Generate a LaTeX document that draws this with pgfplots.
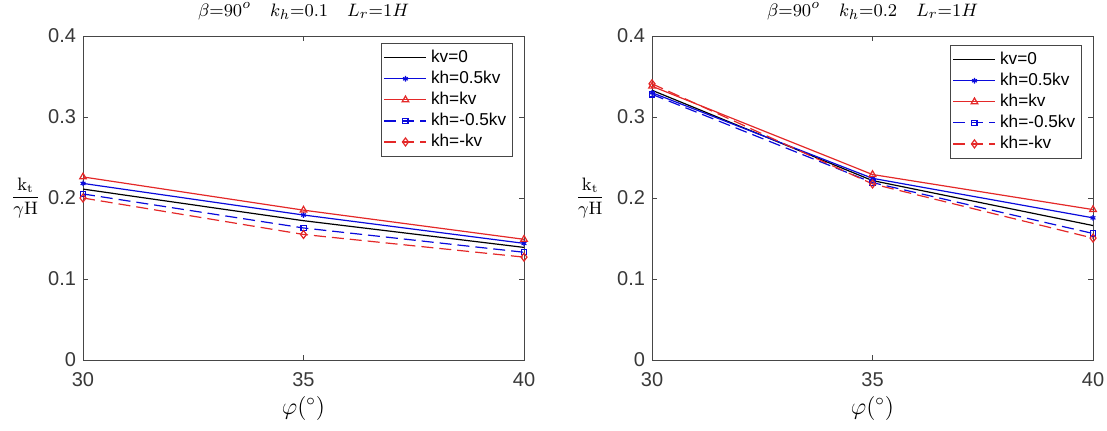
\documentclass[border=0pt]{standalone}
\usepackage[no-math]{fontspec}
\setmainfont{Liberation Sans}
\usepackage{pgfplots}
\usepackage{pgfplotstable}
\pgfplotsset{compat=1.18}
\definecolor{mblue}{RGB}{10,10,220}
\definecolor{mred}{RGB}{228,40,40}
\definecolor{axgray}{RGB}{70,70,70}

\pgfplotstableread{
phi kvzero khhalf khkv khmhalf khmkv
30 0.211 0.218 0.226 0.205 0.200
35 0.172 0.179 0.185 0.163 0.155
40 0.139 0.144 0.149 0.133 0.127
}\leftdata

\pgfplotstableread{
phi kvzero khhalf khkv khmhalf khmkv
30 0.333 0.330 0.338 0.328 0.341
35 0.2215 0.2243 0.229 0.219 0.2174
40 0.166 0.1755 0.1857 0.1562 0.1505
}\rightdata

\pgfplotsset{
  mystyle/.style={
    scale only axis, width=220.5pt, height=162pt,
    xmin=30, xmax=40, ymin=0, ymax=0.4,
    xtick={30,35,40}, xticklabels={30,35,40},
    ytick={0,0.1,0.2,0.3,0.4}, yticklabels={0,0.1,0.2,0.3,0.4},
    tick align=inside, major tick length=2.5pt,
    axis line style={axgray, line width=0.45pt},
    every tick/.style={axgray, line width=0.45pt},
    tick label style={font=\fontsize{10}{12}\selectfont, text=black!78},
    xticklabel style={yshift=-2.5pt},
    xlabel={$\varphi(^{\circ})$},
    xlabel style={at={(axis description cs:0.5,-0.15)}, anchor=center, font=\fontsize{12}{14}\selectfont},
    ylabel={$\displaystyle\frac{\mathrm{k_t}}{\gamma\mathrm{H}}$},
    ylabel style={rotate=-90, at={(axis description cs:-0.13,0.5)}, anchor=center, font=\fontsize{9}{11}\selectfont},
    title style={font=\fontsize{9.5}{11}\selectfont, yshift=-1.5pt},
    legend cell align=left,
    legend style={anchor=north east, font=\fontsize{8.6}{10}\selectfont,
      draw=axgray, line width=0.45pt, inner sep=1.2pt, row sep=-1.2pt},
    legend image code/.code={\draw[mark repeat=2, mark phase=2, #1] plot coordinates {(0pt,0pt) (10.5pt,0pt) (21pt,0pt)};},
    every axis plot/.append style={line width=0.6pt},
  },
  s0/.style={black, no markers},
  s1/.style={mblue, mark=asterisk, mark size=1.4pt, mark options={solid}},
  s2/.style={mred, mark=triangle, mark size=1.9pt, mark options={solid}},
  s3/.style={mblue, dash pattern=on 6pt off 3pt, mark=square, mark size=1.3pt, mark options={solid}},
  s4/.style={mred, dash pattern=on 6pt off 3pt, mark=diamond, mark size=2pt, mark options={solid}},
}

\begin{document}
\begin{tikzpicture}
\useasboundingbox (0,0) rectangle (553.5pt,215pt);
\begin{axis}[mystyle, at={(41.5pt,35pt)}, anchor=south west,
  title={$\beta{=}90^{o}\quad k_h{=}0.1\quad L_r{=}1H$},
  legend style={at={(0.975,0.978)}}]
\addplot[s0] table[x=phi,y=kvzero] {\leftdata};
\addplot[s1] table[x=phi,y=khhalf] {\leftdata};
\addplot[s2] table[x=phi,y=khkv] {\leftdata};
\addplot[s3] table[x=phi,y=khmhalf] {\leftdata};
\addplot[s4] table[x=phi,y=khmkv] {\leftdata};
\legend{kv=0, kh=0.5kv, kh=kv, kh=-0.5kv, kh=-kv}
\end{axis}
\begin{axis}[mystyle, at={(326pt,35pt)}, anchor=south west,
  title={$\beta{=}90^{o}\quad k_h{=}0.2\quad L_r{=}1H$},
  ylabel style={at={(axis description cs:-0.14,0.5)}},
  legend style={at={(0.975,0.972)}}]
\addplot[s0] table[x=phi,y=kvzero] {\rightdata};
\addplot[s1] table[x=phi,y=khhalf] {\rightdata};
\addplot[s2] table[x=phi,y=khkv] {\rightdata};
\addplot[s3] table[x=phi,y=khmhalf] {\rightdata};
\addplot[s4] table[x=phi,y=khmkv] {\rightdata};
\legend{kv=0, kh=0.5kv, kh=kv, kh=-0.5kv, kh=-kv}
\end{axis}
\end{tikzpicture}
\end{document}
